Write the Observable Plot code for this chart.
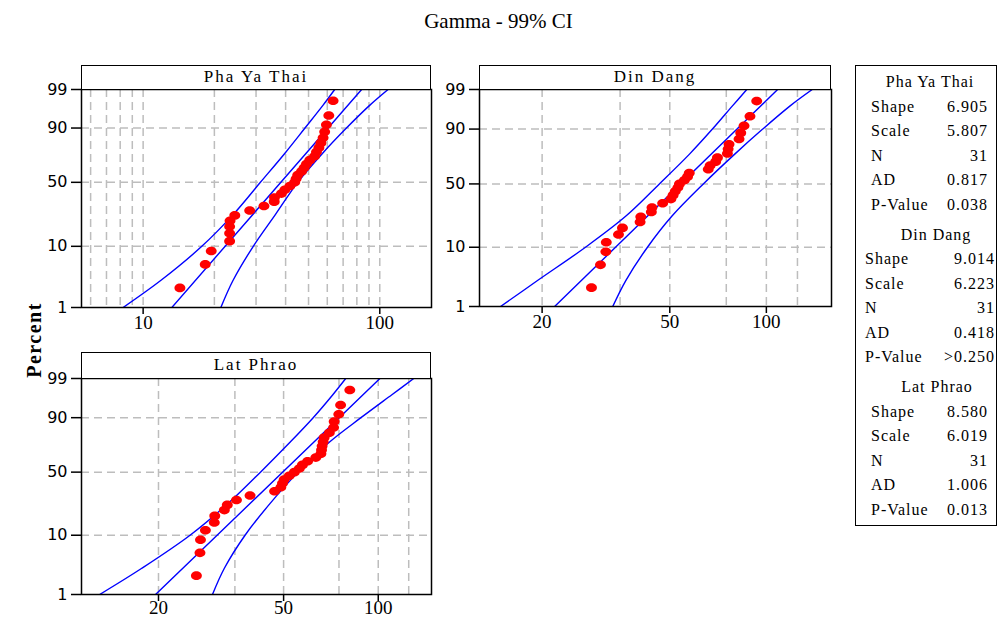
<!DOCTYPE html>
<html><head><meta charset="utf-8">
<script src="https://cdn.jsdelivr.net/npm/d3@7"></script>
<script src="https://cdn.jsdelivr.net/npm/@observablehq/plot@0.6"></script>
<style>
body{margin:0;background:#fff;}
#root{position:relative;width:997px;height:625px;overflow:hidden;font-family:"Liberation Serif","Times New Roman",serif;color:#000;}
.hdr{position:absolute;border:1.5px solid #000;box-sizing:border-box;text-align:center;font-size:17px;letter-spacing:2px;background:#fff;}
.lg{position:absolute;font-size:16px;letter-spacing:1px;white-space:nowrap;transform:translateY(-50%);}
svg{position:absolute;}
</style></head><body><div id="root"></div>
<script>
// ---------- data ----------
const names = ["Pha Ya Thai", "Din Dang", "Lat Phrao"];
const shapes = [6.905, 9.014, 8.580];
const scales = [5.807, 6.223, 6.019];
const percentTicks = [1, 10, 50, 90, 99];
const percentGrid = [10, 50, 90];
// median-rank plotting positions (percent) for N = 31
const plotPos = [2.23, 5.41, 8.60, 11.78, 14.97, 18.15, 21.34, 24.52, 27.71, 30.89, 34.08, 37.26, 40.45, 43.63, 46.82, 50.00, 53.18, 56.37, 59.55, 62.74, 65.92, 69.11, 72.29, 75.48, 78.66, 81.85, 85.03, 88.22, 91.40, 94.59, 97.77];
const xPhaYaThai = [14.3, 18.3, 19.4, 23.2, 23.2, 23.2, 23.3, 24.4, 28.2, 32.4, 35.8, 35.9, 38.4, 39.7, 41.7, 43.7, 44.3, 45.0, 46.7, 47.9, 49.0, 50.6, 53.0, 54.0, 55.3, 56.4, 57.6, 58.5, 59.5, 60.9, 63.5];
const xDinDang = [28.5, 30.4, 31.6, 31.7, 34.6, 35.6, 40.4, 40.6, 43.8, 44.0, 47.5, 50.4, 51.2, 52.0, 53.0, 53.6, 55.5, 56.8, 57.5, 65.9, 66.8, 69.5, 70.4, 75.6, 76.0, 76.5, 82.2, 83.2, 85.2, 88.9, 93.3];
const xLatPhrao = [26.4, 27.1, 27.2, 28.2, 30.1, 30.2, 32.4, 33.1, 35.4, 39.1, 46.8, 49.0, 49.6, 50.2, 52.1, 54.1, 56.1, 57.4, 59.6, 63.3, 65.7, 66.0, 66.3, 66.8, 67.3, 69.9, 72.1, 72.4, 74.9, 75.9, 81.2];
// 99% confidence band
const ciPct = [1, 3, 10, 25, 50, 75, 90, 97, 99];
const ciLowPhaYaThai  = [8.23, 11.9, 17.7, 24.0, 31.3, 39.9, 48.3, 57.5, 64.5];
const ciHighPhaYaThai = [21.3, 24.0, 29.2, 36.2, 45.0, 57.6, 72.3, 90.6, 108.4];
const ciLowDinDang    = [14.84, 19.4, 27.3, 36.5, 46.4, 57.6, 67.9, 78.4, 86.9];
const ciHighDinDang   = [33.2, 36.5, 42.6, 50.8, 63.6, 79.7, 97.4, 118.6, 139];
const ciLowLatPhrao   = [13.0, 17.7, 25.2, 33.1, 42.2, 52.3, 62.1, 71.7, 78.8];
const ciHighLatPhrao  = [29.7, 32.4, 37.7, 45.1, 55.6, 69.7, 88.1, 110.5, 129.7];
const xTicksPhaYaThai = [10, 100];
const xGridPhaYaThai = [6, 7, 8, 9, 10, 20, 30, 40, 50, 60, 70, 80, 90, 100];
const xTicksOther = [20, 50, 100];
const xGridOther = [20, 35, 50, 75, 100, 125];
const statLabels = ["Shape", "Scale", "N", "AD", "P-Value"];
const statsPhaYaThai = ["6.905", "5.807", "31", "0.817", "0.038"];
const statsDinDang = ["9.014", "6.223", "31", "0.418", ">0.250"];
const statsLatPhrao = ["8.580", "6.019", "31", "1.006", "0.013"];

// ---------- gamma distribution helpers (probability-paper scale) ----------
function lnGamma(z){
  const c=[0.99999999999980993,676.5203681218851,-1259.1392167224028,771.32342877765313,-176.61502916214059,12.507343278686905,-0.13857109526572012,9.9843695780195716e-6,1.5056327351493116e-7];
  if(z<0.5) return Math.log(Math.PI/Math.sin(Math.PI*z))-lnGamma(1-z);
  z-=1; let x=c[0]; for(let i=1;i<9;i++) x+=c[i]/(z+i);
  const t=z+7.5; return 0.5*Math.log(2*Math.PI)+(z+0.5)*Math.log(t)-t+Math.log(x);
}
function gammaP(a,x){
  if(x<=0) return 0;
  const lf=-x+a*Math.log(x)-lnGamma(a);
  if(x<a+1){
    let ap=a, del=1/a, sum=del;
    for(let n=0;n<1000;n++){ap+=1; del*=x/ap; sum+=del; if(Math.abs(del)<Math.abs(sum)*1e-15) break;}
    return sum*Math.exp(lf);
  }
  let b=x+1-a, c=1e300, d=1/b, h=d;
  for(let i=1;i<1000;i++){
    const an=-i*(i-a); b+=2; d=an*d+b; if(Math.abs(d)<1e-300) d=1e-300;
    c=b+an/c; if(Math.abs(c)<1e-300) c=1e-300; d=1/d; const del=d*c; h*=del;
    if(Math.abs(del-1)<1e-15) break;
  }
  return 1-Math.exp(lf)*h;
}
function gammaInv(p,a){
  let lo=0, hi=a*20+60;
  for(let i=0;i<200;i++){const m=(lo+hi)/2; if(gammaP(a,m)<p) lo=m; else hi=m;}
  return (lo+hi)/2;
}
const ellipse = {draw(ctx,size){
  const r=Math.sqrt(size/Math.PI), rx=r*1.27, ry=r, k=0.5523;
  ctx.moveTo(rx,0);
  ctx.bezierCurveTo(rx,ry*k,rx*k,ry,0,ry);
  ctx.bezierCurveTo(-rx*k,ry,-rx,ry*k,-rx,0);
  ctx.bezierCurveTo(-rx,-ry*k,-rx*k,-ry,0,-ry);
  ctx.bezierCurveTo(rx*k,-ry,rx,-ry*k,rx,0);
  ctx.closePath();
}};

const root = document.getElementById("root");

function panel(c){
  const k=c.shape;
  const T = p => Math.log10(gammaInv(p/100,k));
  const pts = c.xs.map((x,i)=>({x, y:T(plotPos[i])}));
  const fit = [1,99].map(p=>({x:c.scale*gammaInv(p/100,k), y:T(p)}));
  const low = ciPct.map((p,i)=>({x:c.lo[i], y:T(p)}));
  const high = ciPct.map((p,i)=>({x:c.hi[i], y:T(p)}));
  const tickT = percentTicks.map(T);
  const lab = new Map(tickT.map((t,i)=>[t, String(percentTicks[i])]));
  const gridStyle = {stroke:"#bdbdbd", strokeOpacity:1, strokeWidth:1.5, strokeDasharray:"8,5"};
  const lineStyle = {x:"x", y:"y", stroke:"#0000ff", strokeWidth:1.4, clip:true};
  const svg = Plot.plot({
    width:c.w, height:c.h,
    marginLeft:c.ml, marginRight:c.mr, marginTop:c.mt, marginBottom:c.mb,
    style:{background:"transparent", overflow:"visible", color:"#000"},
    x:{type:"log", domain:c.xDomain},
    y:{domain:[T(1), T(99)]},
    marks:[
      Plot.gridX(c.grid, gridStyle),
      Plot.gridY(percentGrid.map(T), gridStyle),
      Plot.line(low, {...lineStyle, curve:"catmull-rom"}),
      Plot.line(high, {...lineStyle, curve:"catmull-rom"}),
      Plot.line(fit, lineStyle),
      Plot.dot(pts, {x:"x", y:"y", r:4.3, fill:"#ff0000", symbol:ellipse}),
      Plot.frame({stroke:"#000", strokeWidth:1.5}),
      Plot.axisY(tickT, {tickSize:10, tickPadding:4, tickFormat:t=>lab.get(t), fontSize:16, fontFamily:"DejaVu Sans", label:null, strokeWidth:1.5}),
      Plot.axisX(c.ticks, {tickSize:7, tickFormat:()=>"", label:null, strokeWidth:1.5}),
      Plot.text(c.ticks, {x:d=>d, frameAnchor:"bottom", dy:c.labDy, text:d=>String(d), fontSize:19, fontFamily:"Liberation Serif", fill:"#000"})
    ]
  });
  svg.style.left = c.left+"px"; svg.style.top = c.top+"px";
  root.appendChild(svg);
  const h = document.createElement("div");
  h.className="hdr";
  h.style.left=(c.left+c.ml)+"px"; h.style.top=c.hTop+"px";
  h.style.width=(c.w-c.ml-c.mr)+"px"; h.style.height=(c.top+c.mt-c.hTop+1)+"px";
  h.style.lineHeight=(c.top+c.mt-c.hTop-2)+"px";
  h.textContent=c.name;
  root.appendChild(h);
}

panel({name:names[0], shape:shapes[0], scale:scales[0], xs:xPhaYaThai, lo:ciLowPhaYaThai, hi:ciHighPhaYaThai,
  xDomain:[5.49,165.4], ticks:xTicksPhaYaThai, grid:xGridPhaYaThai, labDy:21,
  left:0, top:55, w:445, h:300, ml:81, mr:14, mt:34, mb:48, hTop:65});
panel({name:names[1], shape:shapes[1], scale:scales[1], xs:xDinDang, lo:ciLowDinDang, hi:ciHighDinDang,
  xDomain:[12.76,159.6], ticks:xTicksOther, grid:xGridOther, labDy:21,
  left:400, top:55, w:440, h:300, ml:79, mr:9, mt:34, mb:49, hTop:65});
panel({name:names[2], shape:shapes[2], scale:scales[2], xs:xLatPhrao, lo:ciLowLatPhrao, hi:ciHighLatPhrao,
  xDomain:[11.38,147.7], ticks:xTicksOther, grid:xGridOther, labDy:19,
  left:0, top:340, w:445, h:285, ml:81, mr:14, mt:38, mb:31, hTop:352});

// title
const title = document.createElement("div");
title.textContent = "Gamma - 99% CI";
Object.assign(title.style,{position:"absolute",left:"0",width:"997px",top:"9px",textAlign:"center",fontSize:"21px"});
root.appendChild(title);
// y label
const yl = document.createElement("div");
yl.textContent = "Percent";
Object.assign(yl.style,{position:"absolute",left:"34px",top:"340px",fontSize:"20px",fontWeight:"bold",letterSpacing:"1.5px",transform:"translate(-50%,-50%) rotate(-90deg)",whiteSpace:"nowrap"});
root.appendChild(yl);

// legend box
const box = document.createElement("div");
Object.assign(box.style,{position:"absolute",left:"855px",top:"65px",width:"142px",height:"461px",border:"1.5px solid #000",boxSizing:"border-box"});
root.appendChild(box);
const groups = [
  {name:names[0], vals:statsPhaYaThai, y:82, labX:871, valR:987, cx:930},
  {name:names[1], vals:statsDinDang, y:234.5, labX:865, valR:994, cx:936},
  {name:names[2], vals:statsLatPhrao, y:387, labX:871, valR:987, cx:937}
];
function addText(txt, x, y, align){
  const d=document.createElement("div"); d.className="lg"; d.textContent=txt;
  d.style.top=y+"px";
  if(align==="center"){d.style.left=(x-70)+"px"; d.style.width="140px"; d.style.textAlign="center";}
  else if(align==="right"){d.style.left=(x-80)+"px"; d.style.width="80px"; d.style.textAlign="right"; d.style.letterSpacing="1px"; d.style.marginLeft="1px";}
  else d.style.left=x+"px";
  root.appendChild(d);
}
groups.forEach(g=>{
  addText(g.name, g.cx, g.y, "center");
  statLabels.forEach((l,i)=>{
    const y = g.y + 24.5 + i*24.5;
    addText(l, g.labX, y, "left");
    addText(g.vals[i], g.valR, y, "right");
  });
});
</script></body></html>
